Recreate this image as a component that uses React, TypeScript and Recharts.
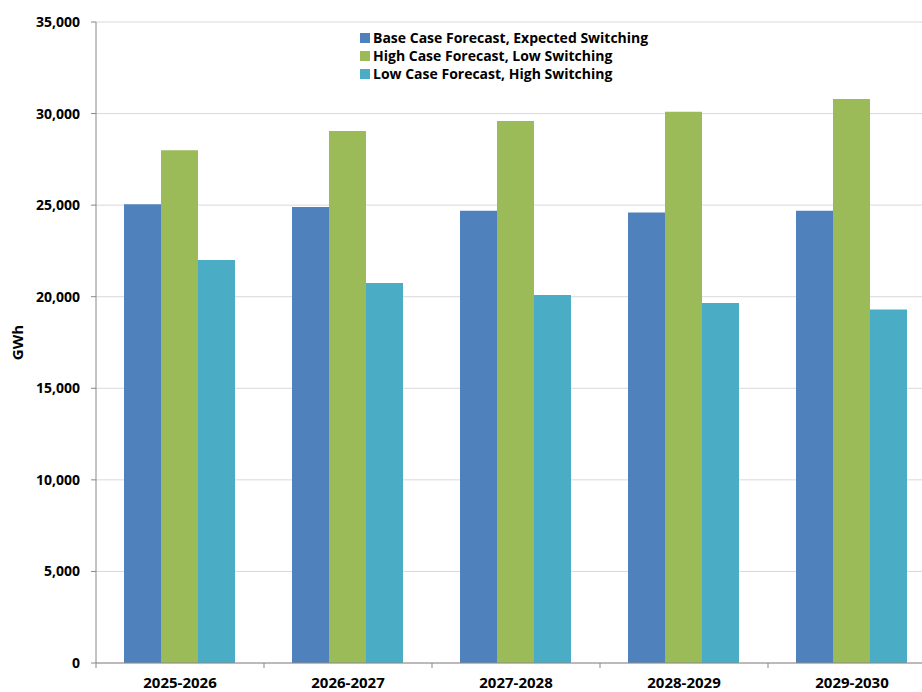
import React from 'react';
import {
  BarChart,
  Bar,
  XAxis,
  YAxis,
  CartesianGrid,
} from 'recharts';

const years = ['2025-2026', '2026-2027', '2027-2028', '2028-2029', '2029-2030'];
const baseCase = [25050, 24900, 24700, 24600, 24700];
const highCase = [28000, 29050, 29600, 30100, 30800];
const lowCase = [22000, 20750, 20100, 19650, 19300];
const yTicks = [0, 5000, 10000, 15000, 20000, 25000, 30000, 35000];

const seriesInfo = [
  { key: 'base', name: 'Base Case Forecast, Expected Switching', color: '#4f81bd' },
  { key: 'high', name: 'High Case Forecast, Low Switching', color: '#9bbb59' },
  { key: 'low', name: 'Low Case Forecast, High Switching', color: '#4bacc6' },
];

const data = years.map((year, i) => ({
  year,
  base: baseCase[i],
  high: highCase[i],
  low: lowCase[i],
}));

const FONT = '"Open Sans", "Noto Sans", sans-serif';
const BAND = 168;

// recharts hands the tick a y already pushed down by tickSize + tickMargin
const XTick = (props: { x?: number; y?: number; payload?: { value: string } }) => {
  const { x = 0, y = 0, payload } = props;
  const axisY = y - 8;
  return (
    <g>
      <line x1={x - BAND / 2} y1={axisY} x2={x - BAND / 2} y2={axisY + 5} stroke="#888" />
      <text
        x={x}
        y={axisY + 25}
        textAnchor="middle"
        fontSize={15}
        fontWeight={700}
        fontFamily={FONT}
        fill="#000"
      >
        {payload?.value}
      </text>
    </g>
  );
};

const LegendBox = () => (
  <div
    style={{
      position: 'absolute',
      left: 360,
      top: 29,
      fontFamily: FONT,
      fontSize: 14,
      fontWeight: 700,
      lineHeight: '18px',
      whiteSpace: 'nowrap',
    }}
  >
    {seriesInfo.map((s) => (
      <div key={s.key} style={{ display: 'flex', alignItems: 'center' }}>
        <span
          style={{
            display: 'inline-block',
            width: 10,
            height: 10,
            background: s.color,
            marginRight: 3,
          }}
        />
        {s.name}
      </div>
    ))}
  </div>
);

export default function App() {
  return (
    <div
      style={{
        position: 'absolute',
        left: 0,
        top: 0,
        width: 922,
        height: 692,
        overflow: 'hidden',
        background: '#fff',
      }}
    >
      <BarChart
        width={936}
        height={692}
        data={data}
        margin={{ top: 22, right: 0, bottom: 0, left: 0 }}
        barCategoryGap={28}
        barGap={0}
      >
        <CartesianGrid vertical={false} stroke="#d9d9d9" />
        <XAxis
          dataKey="year"
          height={29}
          stroke="#888"
          tickLine={false}
          tick={<XTick />}
          interval={0}
        />
        <YAxis
          width={96}
          domain={[0, 35000]}
          ticks={yTicks}
          stroke="#888"
          tickSize={5}
          tickMargin={11}
          tickFormatter={(v: number) => v.toLocaleString('en-US')}
          tick={{ fontSize: 14, fontWeight: 700, fill: '#000', fontFamily: FONT }}
          label={{
            value: 'GWh',
            angle: -90,
            position: 'insideLeft',
            offset: 18,
            style: { fontSize: 15, fontWeight: 700, fill: '#000', fontFamily: FONT, textAnchor: 'middle' },
          }}
        />
        {seriesInfo.map((s) => (
          <Bar
            key={s.key}
            dataKey={s.key}
            name={s.name}
            fill={s.color}
            isAnimationActive={false}
          />
        ))}
      </BarChart>
      <LegendBox />
    </div>
  );
}
